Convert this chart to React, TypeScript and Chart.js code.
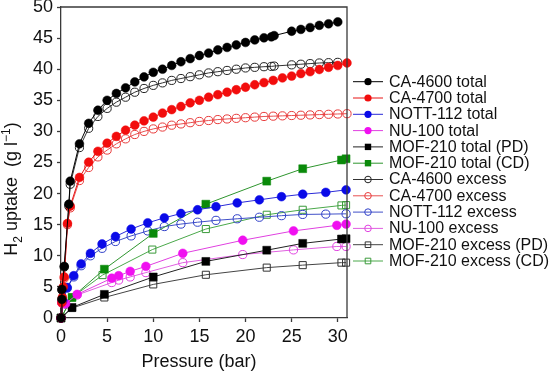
import React, { useEffect, useRef } from 'react';
import { Chart, registerables } from 'chart.js';

Chart.register(...registerables);

const FONT = "'Liberation Sans', Arial, Helvetica, sans-serif";

// Tick labels
const X_TICKS = [0, 5, 10, 15, 20, 25, 30];
const Y_TICKS = [0, 5, 10, 15, 20, 25, 30, 35, 40, 45, 50];

// CA-4600 total (pressure bar, uptake g/l)
const CA4600_TOTAL_P = [0, 0.1, 0.1, 0.35, 0.85, 1, 2, 3, 4, 5, 6, 7, 8, 9, 10, 11, 12, 13, 14, 15, 16, 17, 18, 19, 20, 21, 22, 22.8, 23.1, 25, 26, 27, 28, 29, 30];
const CA4600_TOTAL_U = [0, 3.0, 4.6, 8.3, 18.3, 22.0, 28.0, 31.3, 33.4, 35.0, 36.1, 37.0, 37.95, 38.76, 39.5, 40.0, 40.6, 41.2, 41.7, 42.2, 42.6, 43.1, 43.5, 43.9, 44.3, 44.7, 45.05, 45.2, 45.4, 46.1, 46.4, 46.7, 47.05, 47.3, 47.6];

const CA4600_EXCESS_P = [0, 0.1, 0.1, 0.35, 0.85, 1, 2, 3, 4, 5, 6, 7, 8, 9, 10, 11, 12, 13, 14, 15, 16, 17, 18, 19, 20, 21, 22, 22.8, 23.1, 25, 26, 27, 28, 29, 30];
const CA4600_EXCESS_U = [0, 3.0, 4.5, 8.2, 18.0, 21.5, 27.4, 30.5, 32.4, 33.7, 34.7, 35.5, 36.3, 36.9, 37.4, 37.8, 38.2, 38.5, 38.8, 39.1, 39.4, 39.6, 39.8, 40.0, 40.2, 40.3, 40.4, 40.45, 40.5, 40.7, 40.8, 40.9, 41.0, 41.05, 41.1];

const CA4700_TOTAL_P = [0, 0.1, 0.15, 0.25, 0.35, 0.7, 1, 2, 3, 4, 5, 6, 7, 8, 9, 10, 11, 12, 13, 14, 15, 16, 17, 18, 19, 20, 21, 22, 23, 24, 25, 26, 27, 28, 29, 30, 31];
const CA4700_TOTAL_U = [0, 2.5, 3.3, 5.0, 6.6, 15.2, 18.0, 22.6, 25.05, 26.8, 28.1, 29.2, 30.2, 31.0, 31.7, 32.3, 32.95, 33.5, 34.0, 34.6, 35.0, 35.5, 35.9, 36.3, 36.7, 37.1, 37.5, 37.85, 38.2, 38.6, 38.9, 39.3, 39.6, 39.95, 40.3, 40.6, 41.0];

const CA4700_EXCESS_P = [0, 0.1, 0.15, 0.25, 0.35, 0.7, 1, 2, 3, 4, 5, 6, 7, 8, 9, 10, 11, 12, 13, 14, 15, 16, 17, 18, 19, 20, 21, 22, 23, 24, 25, 26, 27, 28, 29, 30, 31];
const CA4700_EXCESS_U = [0, 2.4, 3.2, 4.8, 6.4, 15.0, 17.7, 22.1, 24.2, 25.9, 27.0, 28.0, 28.8, 29.5, 30.0, 30.4, 30.7, 31.0, 31.2, 31.4, 31.6, 31.75, 31.9, 32.0, 32.1, 32.2, 32.3, 32.4, 32.45, 32.5, 32.55, 32.6, 32.65, 32.7, 32.75, 32.8, 32.85];

const NOTT112_TOTAL_P = [0, 0.2, 0.67, 1.38, 2.18, 3.19, 4.45, 5.9, 7.6, 9.4, 11.2, 13.0, 14.8, 16.8, 19.1, 21.5, 23.9, 26.2, 28.7, 30.9];
const NOTT112_TOTAL_U = [0, 2.8, 4.9, 6.8, 8.7, 10.4, 11.9, 13.1, 14.3, 15.3, 16.1, 16.8, 17.4, 17.9, 18.5, 19.0, 19.5, 19.9, 20.2, 20.6];

const NOTT112_EXCESS_P = [0, 0.2, 0.67, 1.38, 2.18, 3.19, 4.45, 5.9, 7.6, 9.4, 11.2, 13.0, 14.8, 16.8, 19.1, 21.5, 23.9, 26.2, 28.7, 30.9];
const NOTT112_EXCESS_U = [0, 2.7, 4.8, 6.6, 8.4, 10.0, 11.2, 12.3, 13.2, 14.0, 14.7, 15.1, 15.4, 15.7, 15.95, 16.2, 16.45, 16.65, 16.7, 16.75];

const NU100_TOTAL_P = [0, 0.1, 0.5, 1.75, 5.5, 6.25, 7.5, 9.2, 13.2, 19.7, 25.2, 29.9, 30.9];
const NU100_TOTAL_U = [0, 2.5, 2.3, 3.8, 6.4, 6.8, 7.5, 8.3, 10.4, 12.5, 14.0, 14.9, 15.1];

const NU100_EXCESS_P = [0, 0.1, 0.5, 1.75, 5.5, 6.25, 7.5, 9.2, 13.2, 19.7, 25.2, 29.9, 30.9];
const NU100_EXCESS_U = [0, 2.4, 2.2, 3.7, 5.7, 6.1, 6.6, 7.3, 8.9, 10.2, 10.95, 11.5, 11.5];

const MOF210_P = [0, 1.2, 4.7, 10.0, 15.7, 22.3, 26.2, 30.4, 30.9];
const MOF210_TOTAL_PD_U = [0, 1.7, 3.8, 6.6, 9.1, 10.9, 12.0, 12.7, 12.75];
const MOF210_TOTAL_CD_U = [0, 3.3, 7.85, 13.6, 18.3, 22.0, 24.0, 25.4, 25.6];
const MOF210_EXCESS_PD_U = [0, 1.6, 3.3, 5.4, 6.95, 8.1, 8.5, 8.9, 8.9];
const MOF210_EXCESS_CD_P = [0, 1.2, 4.5, 9.9, 15.7, 22.3, 26.2, 30.4, 30.9];
const MOF210_EXCESS_CD_U = [0, 3.3, 6.9, 11.0, 14.3, 16.6, 17.4, 18.1, 18.15];

const LABELS = [
  'CA-4600 total', 'CA-4700 total', 'NOTT-112 total', 'NU-100 total',
  'MOF-210 total (PD)', 'MOF-210 total (CD)',
  'CA-4600 excess', 'CA-4700 excess', 'NOTT-112 excess', 'NU-100 excess',
  'MOF-210 excess (PD)', 'MOF-210 excess (CD)',
];

const zip = (p: number[], u: number[]) => p.map((x, i) => ({ x, y: u[i] }));

type Spec = { pts: { x: number; y: number }[]; color: string; line: string; shape: 'circle' | 'rect'; filled: boolean };

const SPECS: Spec[] = [
  { pts: zip(CA4600_TOTAL_P, CA4600_TOTAL_U), color: '#000000', line: '#000000', shape: 'circle', filled: true },
  { pts: zip(CA4700_TOTAL_P, CA4700_TOTAL_U), color: '#f20d0d', line: '#e81515', shape: 'circle', filled: true },
  { pts: zip(NOTT112_TOTAL_P, NOTT112_TOTAL_U), color: '#0a0ae8', line: '#2a2ad8', shape: 'circle', filled: true },
  { pts: zip(NU100_TOTAL_P, NU100_TOTAL_U), color: '#f010f0', line: '#e040e0', shape: 'circle', filled: true },
  { pts: zip(MOF210_P, MOF210_TOTAL_PD_U), color: '#000000', line: '#222222', shape: 'rect', filled: true },
  { pts: zip(MOF210_P, MOF210_TOTAL_CD_U), color: '#0a8a0a', line: '#2e952e', shape: 'rect', filled: true },
  { pts: zip(CA4600_EXCESS_P, CA4600_EXCESS_U), color: '#222222', line: '#333333', shape: 'circle', filled: false },
  { pts: zip(CA4700_EXCESS_P, CA4700_EXCESS_U), color: '#e83a3a', line: '#e85050', shape: 'circle', filled: false },
  { pts: zip(NOTT112_EXCESS_P, NOTT112_EXCESS_U), color: '#3040c8', line: '#4050c8', shape: 'circle', filled: false },
  { pts: zip(NU100_EXCESS_P, NU100_EXCESS_U), color: '#e040e0', line: '#e060e0', shape: 'circle', filled: false },
  { pts: zip(MOF210_P, MOF210_EXCESS_PD_U), color: '#333333', line: '#444444', shape: 'rect', filled: false },
  { pts: zip(MOF210_EXCESS_CD_P, MOF210_EXCESS_CD_U), color: '#3a9a3a', line: '#4aa84a', shape: 'rect', filled: false },
];

const AXIS = '#3a3a3a';

const decorPlugin = {
  id: 'decor',
  afterDraw(chart: any) {
    const { ctx, chartArea } = chart;
    const { left, right, top, bottom } = chartArea;
    ctx.save();
    // box top and right
    ctx.strokeStyle = AXIS;
    ctx.lineWidth = 1.3;
    ctx.beginPath();
    ctx.moveTo(left, top);
    ctx.lineTo(right, top);
    ctx.lineTo(right, bottom);
    ctx.stroke();

    // legend
    chart.data.datasets.forEach((ds: any, i: number) => {
      const spec = SPECS[i];
      const y = top + 74.7 + i * 16.3;
      const x0 = right + 6;
      ctx.strokeStyle = spec.line;
      ctx.lineWidth = 1;
      ctx.beginPath();
      ctx.moveTo(x0, y);
      ctx.lineTo(x0 + 30, y);
      ctx.stroke();
      const cx = x0 + 15;
      ctx.beginPath();
      if (spec.shape === 'circle') {
        ctx.arc(cx, y, spec.filled ? 3.6 : 3.3, 0, Math.PI * 2);
      } else {
        const s = spec.filled ? 3.2 : 2.8;
        ctx.rect(cx - s, y - s, 2 * s, 2 * s);
      }
      if (spec.filled) {
        ctx.fillStyle = spec.color;
        ctx.fill();
      } else {
        ctx.strokeStyle = spec.color;
        ctx.lineWidth = 1;
        ctx.stroke();
      }
      ctx.fillStyle = '#111';
      ctx.font = `16px ${FONT}`;
      ctx.textBaseline = 'middle';
      ctx.textAlign = 'left';
      ctx.fillText(ds.label, x0 + 36, y + 0.5);
    });

    // x title
    ctx.fillStyle = '#111';
    ctx.font = `18px ${FONT}`;
    ctx.textAlign = 'center';
    ctx.textBaseline = 'middle';
    ctx.fillText('Pressure (bar)', left + 138, 362);

    // y title with sub/superscript
    const parts = [
      { t: 'H', f: 18, dy: 0 },
      { t: '2', f: 12, dy: 5 },
      { t: ' uptake  (g l', f: 18, dy: 0 },
      { t: '\u22121', f: 12, dy: -7 },
      { t: ')', f: 18, dy: 0 },
    ];
    let total = 0;
    const widths = parts.map((p) => {
      ctx.font = `${p.f}px ${FONT}`;
      const w = ctx.measureText(p.t).width;
      total += w;
      return w;
    });
    ctx.translate(17, 189);
    ctx.rotate(-Math.PI / 2);
    ctx.textAlign = 'left';
    ctx.textBaseline = 'alphabetic';
    let x = -total / 2;
    parts.forEach((p, i) => {
      ctx.font = `${p.f}px ${FONT}`;
      ctx.fillText(p.t, x, p.dy);
      x += widths[i];
    });
    ctx.restore();
  },
};

export default function App() {
  const ref = useRef<HTMLCanvasElement | null>(null);
  useEffect(() => {
    if (!ref.current) return;
    const datasets = SPECS.map((s, i) => ({
      label: LABELS[i],
      data: s.pts,
      borderColor: s.line,
      borderWidth: 1,
      backgroundColor: s.color,
      pointStyle: s.shape,
      pointRadius: s.shape === 'circle' ? (s.filled ? 4.4 : 4.1) : s.filled ? 5.6 : 5.0,
      pointBackgroundColor: s.filled ? s.color : 'rgba(0,0,0,0)',
      pointBorderColor: s.color,
      pointBorderWidth: s.filled ? 0.5 : 1,
      tension: 0,
      fill: false,
      clip: false as any,
    }));
    const chart = new Chart(ref.current, {
      type: 'scatter',
      data: { datasets },
      options: {
        animation: false,
        responsive: true,
        maintainAspectRatio: false,
        showLine: true,
        layout: { padding: { left: 0, right: 206, top: 7, bottom: 0 } },
        plugins: { legend: { display: false }, tooltip: { enabled: false } },
        elements: { line: { tension: 0 } },
        scales: {
          x: {
            type: 'linear',
            min: 0,
            max: 31,
            afterBuildTicks: (s: any) => { s.ticks = X_TICKS.map((v) => ({ value: v })); },
            afterFit: (s: any) => { s.height = 54; s.paddingLeft = 0; s.paddingRight = 0; },
            ticks: { color: '#111', font: { family: FONT, size: 18 }, padding: 4, maxRotation: 0 },
            grid: { drawOnChartArea: false, drawTicks: true, tickLength: 4, color: AXIS, tickWidth: 1.3 },
            border: { display: true, color: AXIS, width: 1.3 },
          },
          y: {
            type: 'linear',
            min: 0,
            max: 50,
            afterBuildTicks: (s: any) => { s.ticks = Y_TICKS.map((v) => ({ value: v })); },
            afterFit: (s: any) => { s.width = 61; s.paddingTop = 0; s.paddingBottom = 0; },
            ticks: { color: '#111', font: { family: FONT, size: 18 }, padding: 4 },
            grid: { drawOnChartArea: false, drawTicks: true, tickLength: 4, color: AXIS, tickWidth: 1.3 },
            border: { display: true, color: AXIS, width: 1.3 },
          },
        },
      },
      plugins: [decorPlugin],
    });
    return () => chart.destroy();
  }, []);
  return (
    <div style={{ position: 'absolute', left: 0, top: 0, width: 553, height: 372, background: '#fff' }}>
      <canvas ref={ref} />
    </div>
  );
}
